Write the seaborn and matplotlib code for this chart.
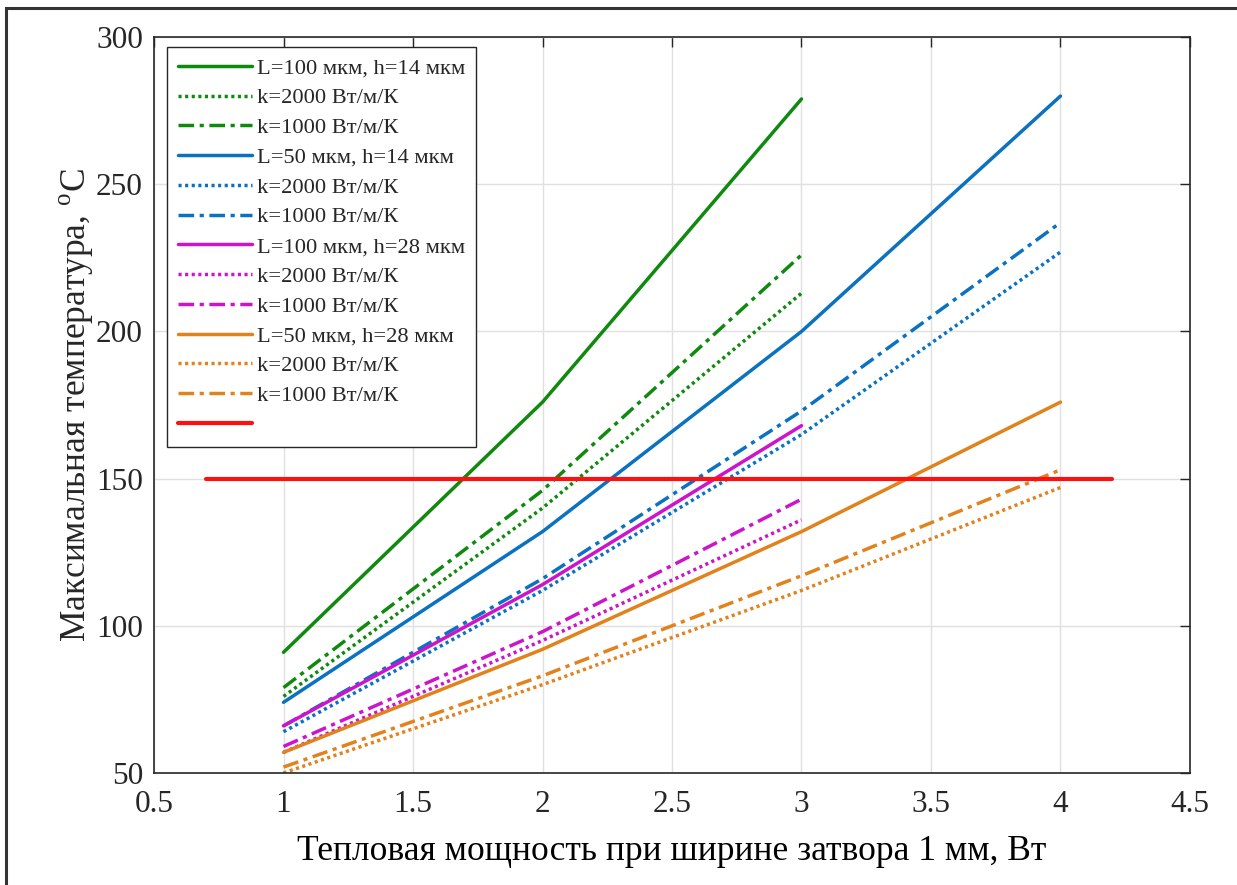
import matplotlib
matplotlib.use("Agg")
import matplotlib.pyplot as plt
import seaborn as sns
import numpy as np
from matplotlib.patches import Rectangle

# Heat power per 1 mm gate width, W
power_3 = [1, 2, 3]
power_4 = [1, 2, 3, 4]

# Maximum temperature, °C
t_L100_h14 = [91, 176, 279]
t_L100_h14_k2000 = [76, 140, 213]
t_L100_h14_k1000 = [79, 146, 226]

t_L50_h14 = [74, 132, 200, 280]
t_L50_h14_k2000 = [64, 112, 165, 227]
t_L50_h14_k1000 = [66, 116, 173, 237]

t_L100_h28 = [66, 114, 168]
t_L100_h28_k2000 = [57, 95, 136]
t_L100_h28_k1000 = [59, 98, 143]

t_L50_h28 = [57, 92, 132, 176]
t_L50_h28_k2000 = [50, 80, 112, 147]
t_L50_h28_k1000 = [52, 83, 117, 153]

limit_x = [0.7, 4.2]
limit_t = [150, 150]

labels = ["L=100 мкм, h=14 мкм", "k=2000 Вт/м/К", "k=1000 Вт/м/К",
          "L=50 мкм, h=14 мкм", "k=2000 Вт/м/К", "k=1000 Вт/м/К",
          "L=100 мкм, h=28 мкм", "k=2000 Вт/м/К", "k=1000 Вт/м/К",
          "L=50 мкм, h=28 мкм", "k=2000 Вт/м/К", "k=1000 Вт/м/К"]

sns.set_theme(style="white")
plt.rcParams["font.family"] = ["Liberation Serif", "DejaVu Serif"]
plt.rcParams["mathtext.fontset"] = "custom"
plt.rcParams["mathtext.rm"] = "Liberation Serif"

fig = plt.figure(figsize=(12.37, 8.85), dpi=100)
ax = fig.add_axes([0.1245, 0.1266, 0.962 - 0.1245, 0.958 - 0.1266])

green = "#0F8A0F"
blue = "#0A72C0"
magenta = "#CC14CC"
orange = "#E2821C"
red = "#FF1010"

solid = "-"
dotted = (0, (0.9, 1.0))
dashdot = (0, (4.5, 1.6, 1.2, 1.6))

series = [
    (power_3, t_L100_h14, green, solid),
    (power_3, t_L100_h14_k2000, green, dotted),
    (power_3, t_L100_h14_k1000, green, dashdot),
    (power_4, t_L50_h14, blue, solid),
    (power_4, t_L50_h14_k2000, blue, dotted),
    (power_4, t_L50_h14_k1000, blue, dashdot),
    (power_3, t_L100_h28, magenta, solid),
    (power_3, t_L100_h28_k2000, magenta, dotted),
    (power_3, t_L100_h28_k1000, magenta, dashdot),
    (power_4, t_L50_h28, orange, solid),
    (power_4, t_L50_h28_k2000, orange, dotted),
    (power_4, t_L50_h28_k1000, orange, dashdot),
]

lw = 2.5
for (xs, ys, c, ls), lab in zip(series, labels):
    sns.lineplot(x=xs, y=ys, ax=ax, color=c, linestyle=ls, linewidth=lw,
                 label=lab, sort=False)

sns.lineplot(x=limit_x, y=limit_t, ax=ax, color=red, linestyle="-",
             linewidth=3.0, label=" ", sort=False)

ax.set_xlim(0.5, 4.5)
ax.set_ylim(50, 300)
ax.set_xticks(np.arange(0.5, 4.51, 0.5))
ax.set_xticklabels(["0.5", "1", "1.5", "2", "2.5", "3", "3.5", "4", "4.5"])
ax.set_yticks([50, 100, 150, 200, 250, 300])

ax.grid(True, color="#E0E0E0", linewidth=1.0)
ax.set_axisbelow(True)
for s in ax.spines.values():
    s.set_color("#262626")
    s.set_linewidth(1.2)
ax.tick_params(axis="both", which="major", direction="in", length=7,
               width=1.0, color="#262626", top=True, right=True,
               labelsize=22.5)
ax.tick_params(axis="x", pad=12)
ax.tick_params(axis="y", pad=8)
for lbl in ax.get_xticklabels() + ax.get_yticklabels():
    lbl.set_color("#262626")

ax.set_xlabel("Тепловая мощность при ширине затвора 1 мм, Вт",
              fontsize=25.5, color="black", labelpad=12)
ax.set_ylabel("Максимальная температура, $^{\\mathrm{o}}\\mathrm{C}$",
              fontsize=25.5, color="#262626", labelpad=0)

leg = ax.legend(loc="upper left", bbox_to_anchor=(0.0125, 0.987),
                fontsize=16.2, handlelength=3.3, handletextpad=0.2,
                labelspacing=0.40, borderpad=0.5, fancybox=False,
                framealpha=1.0, borderaxespad=0.0)
leg.get_frame().set_edgecolor("#262626")
leg.get_frame().set_linewidth(1.0)

# Thin frame around the figure
fig.patches.append(Rectangle((6 / 1237, -0.02), 1.1, (885 - 8) / 885 + 0.02,
                             transform=fig.transFigure, fill=False,
                             edgecolor="#333333", linewidth=2.2))

fig.savefig("out.png", dpi=100)
